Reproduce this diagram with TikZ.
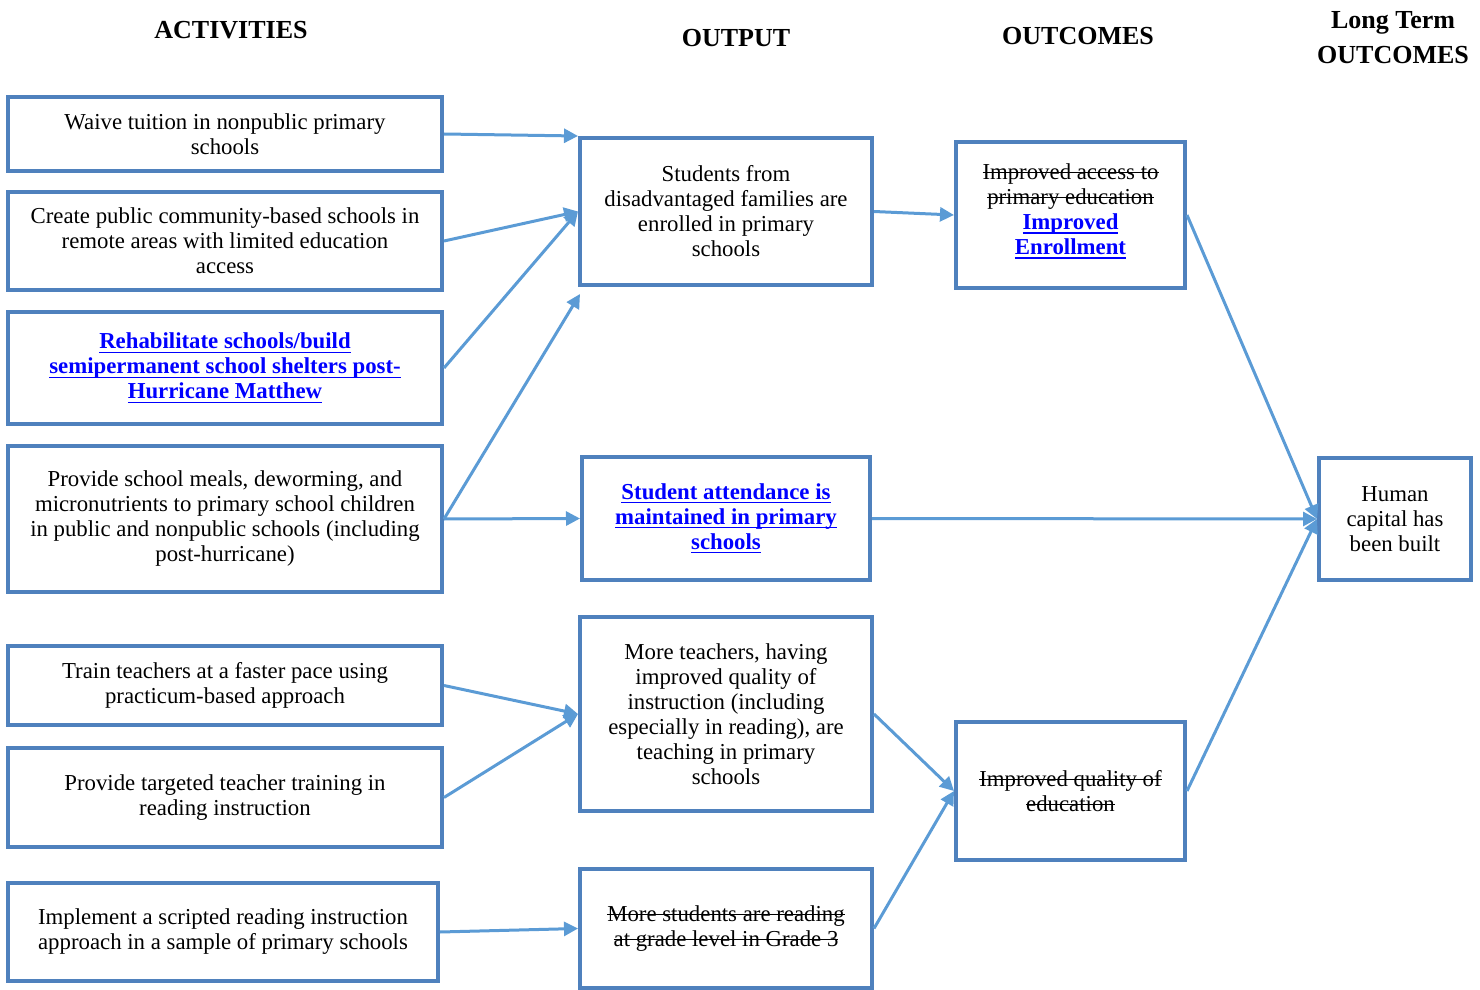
\documentclass[tikz,border=0pt]{standalone}
\usepackage{fontspec}
\setmainfont{Liberation Serif}
\usetikzlibrary{arrows.meta}

\definecolor{boxblue}{HTML}{4F81BD}
\definecolor{arrowblue}{HTML}{5B9BD5}
\definecolor{linkblue}{HTML}{0000FF}
\newbox\linebox
\newcommand{\lnk}[1]{{\color{linkblue}\bfseries\setbox\linebox\hbox{#1}%
    \rlap{\rule[-0.18em]{\wd\linebox}{0.6pt}}\box\linebox}}
\newcommand{\gone}[1]{{\setbox\linebox\hbox{#1}%
    \rlap{\rule[0.27em]{\wd\linebox}{0.6pt}}\box\linebox}}

\tikzset{
    box/.style={draw=boxblue, line width=2pt, inner sep=0pt, align=center,
        font=\fontsize{11.4}{12.5}\selectfont},
    link/.style={draw=arrowblue, line width=1.5pt, -{Triangle[length=7pt,width=7pt]}},
    head/.style={font=\fontsize{13}{17.5}\selectfont\bfseries, align=center},
}

\begin{document}
\begin{tikzpicture}[x=0.5pt, y=-0.5pt]
        \useasboundingbox (0,0) rectangle (1480,990);

        % column heads
        \node[head] (hact) at (231, 30) {ACTIVITIES};
        \node[head] (hout) at (736, 38) {OUTPUT};
        \node[head] (hoc) at (1078, 36) {OUTCOMES};
        \node[head] (hlong) at (1393, 38) {Long Term\\OUTCOMES};

        % activities
        \node[box, minimum width=217pt, minimum height=37pt] (waive) at (225, 134)
            {Waive tuition in nonpublic primary\\schools};
        \node[box, minimum width=217pt, minimum height=49pt] (create) at (225, 241)
            {Create public community-based schools in\\remote areas with limited education\\access};
        \node[box, minimum width=217pt, minimum height=56pt] (rehab) at (225, 368)
            {\lnk{Rehabilitate schools/build}\\\lnk{semipermanent school shelters post-}\\\lnk{Hurricane Matthew}};
        \node[box, minimum width=217pt, minimum height=73pt] (meals) at (225, 519)
            {Provide school meals, deworming, and\\micronutrients to primary school children\\in public and nonpublic schools (including\\post-hurricane)};
        \node[box, minimum width=217pt, minimum height=39.5pt] (train) at (225, 685.5)
            {Train teachers at a faster pace using\\practicum-based approach};
        \node[box, minimum width=217pt, minimum height=49.5pt] (target) at (225, 797.5)
            {Provide targeted teacher training in\\reading instruction};
        \node[box, minimum width=215pt, minimum height=49pt] (script) at (223, 932)
            {Implement a scripted reading instruction\\approach in a sample of primary schools};

        % outputs
        \node[box, minimum width=146pt, minimum height=73.5pt] (enrol) at (726, 211.5)
            {Students from\\disadvantaged families are\\enrolled in primary\\schools};
        \node[box, minimum width=144pt, minimum height=61.5pt] (attend) at (726, 518.5)
            {\lnk{Student attendance is}\\\lnk{maintained in primary}\\\lnk{schools}};
        \node[box, minimum width=146pt, minimum height=97pt] (teach) at (726, 714)
            {More teachers, having\\improved quality of\\instruction (including\\especially in reading), are\\teaching in primary\\schools};
        \node[box, minimum width=146pt, minimum height=59.5pt] (read) at (726, 928.5)
            {\gone{More students are reading}\\\gone{at grade level in Grade 3}};
        \coordinate (gap) at (580, 294);

        % outcomes
        \node[box, minimum width=114.5pt, minimum height=73pt] (access) at (1070.5, 215)
            {\gone{Improved access to}\\\gone{primary education}\\\lnk{Improved}\\\lnk{Enrollment}\\[-6.5pt]};
        \node[box, minimum width=114.5pt, minimum height=69pt] (quality) at (1070.5, 791)
            {\gone{Improved quality of}\\\gone{education}};
        \node[box, minimum width=76pt, minimum height=61pt] (human) at (1395, 519)
            {Human\\capital has\\been built};

        % arrows
        \draw[link] (waive.east) -- (enrol.north west);
        \draw[link] (create.east) -- (enrol.west);
        \draw[link] (rehab.east) -- (enrol.west);
        \draw[link] (meals.east) -- (gap);
        \draw[link] (meals.east) -- (attend.west);
        \draw[link] (train.east) -- (teach.west);
        \draw[link] (target.east) -- (teach.west);
        \draw[link] (script.east) -- (read.west);
        \draw[link] (enrol.east) -- (access.west);
        \draw[link] (teach.east) -- (quality.west);
        \draw[link] (read.east) -- (quality.west);
        \draw[link] (access.east) -- (human.west);
        \draw[link] (attend.east) -- (human.west);
        \draw[link] (quality.east) -- (human.west);
    \end{tikzpicture}
\end{document}
